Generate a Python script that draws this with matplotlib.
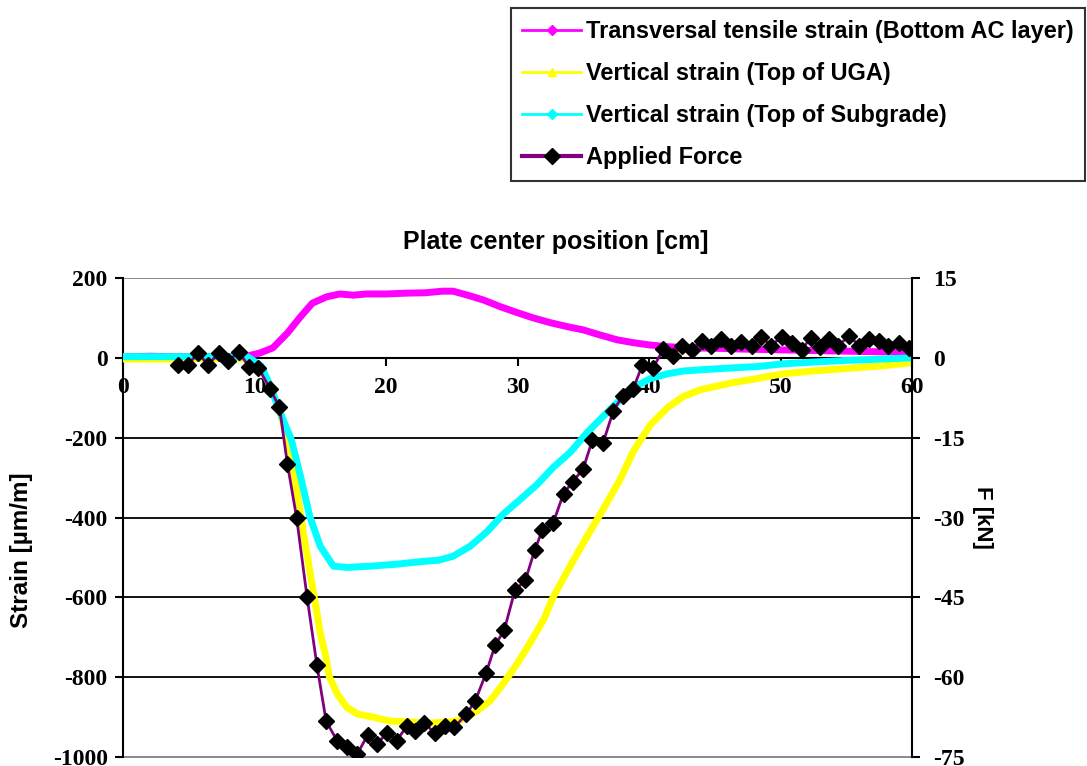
import matplotlib

matplotlib.use("Agg")
import matplotlib.pyplot as plt
from matplotlib.lines import Line2D

plt.rcParams["axes.unicode_minus"] = False

# Transversal tensile strain, bottom of AC layer [um/m]
x_ac = [0, 2, 4, 6, 8, 9.5, 10.4, 11.4, 12.5, 13.5, 14.4, 15.5, 16.5, 17.5, 18.5,
        20, 21.5, 23, 24.3, 25.1, 26.2, 27.4, 28.7, 30, 31.2, 32.5, 33.8, 35,
        36.3, 37.6, 38.8, 40.1, 41.4, 43, 45, 47, 50, 53, 56, 58, 60]
y_ac = [2, 4, 3, 3, 3, 5, 12, 25, 62, 103, 137, 153, 160, 157, 160,
        160, 162, 163, 167, 167, 157, 145, 128, 113, 100, 88, 78, 70,
        57, 45, 38, 32, 28, 25, 24, 22, 20, 18, 16, 15, 15]

# Vertical strain, top of UGA [um/m]
x_uga = [0, 2, 4, 6, 8, 9.5, 10.5, 11.2, 11.9, 12.7, 13.2, 13.8, 14.4, 14.7,
         15.0, 15.4, 15.7, 16.3, 17.0, 17.8, 19.0, 20.3, 21.8, 23.3, 24.9,
         25.9, 26.9, 27.9, 28.9, 30.0, 31.0, 32.0, 32.7, 34.0, 35.3, 36.5,
         37.8, 38.8, 40.1, 41.4, 42.6, 43.9, 46.4, 48.2, 50.2, 52.8, 55.3,
         57.8, 60]
y_uga = [-3, -3, -3, -2, -2, -3, -25, -70, -130, -230, -330, -455, -572, -630,
         -690, -745, -800, -842, -875, -892, -900, -910, -912, -915, -912,
         -905, -885, -860, -817, -765, -712, -655, -600, -522, -447, -380,
         -305, -235, -168, -125, -97, -80, -62, -52, -40, -32, -26,
         -20, -12]

# Vertical strain, top of subgrade [um/m]
x_sg = [0, 2, 4, 6, 8, 9.5, 10.5, 11.2, 11.9, 12.8, 13.5, 14.2, 15.0, 16.0,
        17.0, 18.8, 20.8, 22.8, 24, 25.1, 26.4, 27.7, 28.9, 30.2, 31.5, 32.7,
        34.0, 35.3, 36.5, 37.8, 38.8, 40.1, 41.4, 42.6, 43.9, 46.4, 48.2,
        50.2, 52.8, 55.3, 57.8, 60]
y_sg = [3, 3, 3, 3, 3, 2, -20, -70, -133, -205, -297, -397, -472, -522,
        -525, -522, -517, -510, -507, -497, -472, -435, -392, -355, -317, -275,
        -237, -187, -147, -105, -75, -52, -40, -33, -30, -25, -22,
        -15, -10, -6, -3, 0]

# Applied force [kN]
x_f = [4.18, 4.94, 5.7, 6.46, 7.3, 8.0, 8.8, 9.6, 10.3, 11.2, 11.9, 12.5, 13.2,
       14.0, 14.75, 15.45, 16.3, 17.0, 17.8, 18.6, 19.3, 20.1, 20.8, 21.6, 22.2,
       22.9, 23.7, 24.5, 25.2, 26.1, 26.8, 27.6, 28.3, 29.0, 29.8, 30.6, 31.3,
       31.9, 32.7, 33.5, 34.2, 35.0, 35.7, 36.5, 37.3, 38.0, 38.8, 39.5, 40.3,
       41.1, 41.8, 42.5, 43.3, 44.0, 44.7, 45.5, 46.2, 47.0, 47.8, 48.5, 49.3,
       50.1, 50.9, 51.6, 52.3, 53.0, 53.7, 54.4, 55.2, 56.0, 56.7, 57.5, 58.2,
       59.0, 59.8]
f_kn = [-1.3, -1.3, 0.9, -1.3, 0.9, -0.6, 1.1, -1.7, -1.9, -5.9, -9.3, -19.9, -30,
        -45, -57.8, -68.3, -72, -73.2, -74.5, -70.9, -72.6, -70.4, -71.9, -69.2, -70.2,
        -68.7, -70.4, -69.2, -69.4, -67, -64.4, -59.3, -54, -51.1, -43.7, -41.8, -36.2,
        -32.3, -31.1, -25.5, -23.3, -20.8, -15.4, -16, -9.9, -7.1, -5.8, -1.3, -1.9,
        1.6, 0.4, 2.3, 1.5, 3.2, 2.3, 3.6, 2.3, 3, 2.3, 4, 2.3,
        4, 2.8, 1.5, 3.8, 2.1, 3.6, 2.3, 4.1, 2.3, 3.6, 3.2, 2.3,
        2.8, 1.9]

x_ticks = [0, 10, 20, 30, 40, 50, 60]
strain_ticks = [200, 0, -200, -400, -600, -800, -1000]
force_ticks = [15, 0, -15, -30, -45, -60, -75]

labels = ["Transversal tensile strain (Bottom AC layer)",
          "Vertical strain (Top of UGA)",
          "Vertical strain (Top of Subgrade)",
          "Applied Force"]

SANS = "Liberation Sans"
SERIF = "Liberation Serif"

fig = plt.figure(figsize=(10.87, 7.66), dpi=100)
ax = fig.add_axes([123 / 1087, 9 / 766, 789 / 1087, 479 / 766])
ax2 = ax.twinx()

ax.plot(x_ac, y_ac, color="#FF00FF", lw=5, solid_capstyle="butt", zorder=3)
ax.plot(x_uga, y_uga, color="#FFFF00", lw=5, solid_capstyle="butt", zorder=3)
ax.plot(x_sg, y_sg, color="#00FFFF", lw=5, solid_capstyle="butt", zorder=4)
ax2.plot(x_f, f_kn, color="#800080", lw=2, marker="D", ms=8,
         mfc="black", mec="black", zorder=5)

ax.set_xlim(0, 60)
ax.set_ylim(-1000, 200)
ax2.set_ylim(-75, 15)

# horizontal grid lines + grey plot border
for v in strain_ticks[2:-1]:
    ax.axhline(v, color="black", lw=1.3, zorder=1)
ax.axhline(200, color="#808080", lw=1.3, zorder=1)
ax.axhline(-1000, color="#808080", lw=1.3, zorder=1, clip_on=False)

ax.spines["bottom"].set_position(("data", 0))
ax.spines["bottom"].set_linewidth(1.5)
ax.spines["left"].set_linewidth(1.5)
ax.spines["top"].set_visible(False)
ax.spines["right"].set_visible(False)
for s in ("left", "top", "bottom"):
    ax2.spines[s].set_visible(False)
ax2.spines["right"].set_linewidth(1.5)

ax.set_xticks(x_ticks)
ax.set_yticks(strain_ticks)
ax2.set_yticks(force_ticks)
ax.tick_params(axis="x", direction="out", length=6, width=1.5, pad=8)
ax.tick_params(axis="y", direction="out", length=6, width=1.5, pad=5)
ax2.tick_params(axis="y", direction="out", length=6, width=1.5, pad=9)
for lab in ax.get_xticklabels() + ax.get_yticklabels() + ax2.get_yticklabels():
    lab.set_fontfamily(SERIF)
    lab.set_fontweight("bold")
    lab.set_fontsize(17)

fig.text(556 / 1087, 1 - 242 / 766, "Plate center position [cm]", ha="center",
         va="center", fontsize=18, fontweight="bold", family=SANS)
fig.text(22 / 1087, 1 - 550 / 766, "Strain [\u00b5m/m]", ha="center", va="center",
         rotation=90, fontsize=17.5, fontweight="bold", family=SANS)
fig.text(983 / 1087, 1 - 517 / 766, "F [kN]", ha="center", va="center",
         rotation=270, fontsize=16, fontweight="bold", family=SANS)

handles = [
    Line2D([], [], color="#FF00FF", lw=2, marker="D", ms=5),
    Line2D([], [], color="#FFFF00", lw=2, marker="^", ms=6),
    Line2D([], [], color="#00FFFF", lw=2, marker="D", ms=5),
    Line2D([], [], color="#800080", lw=3, marker="D", ms=8, mfc="black", mec="black"),
]
leg = fig.legend(handles, labels, loc="upper right",
                 bbox_to_anchor=(1085 / 1087, 1 - 8 / 766),
                 prop={"family": SANS, "weight": "bold", "size": 16.9},
                 frameon=True, fancybox=False, edgecolor="black",
                 handlelength=2.5, handletextpad=0.2, labelspacing=0.82,
                 borderpad=0.5, borderaxespad=0)
leg.get_frame().set_linewidth(1.5)

fig.savefig("out.png", dpi=100)
